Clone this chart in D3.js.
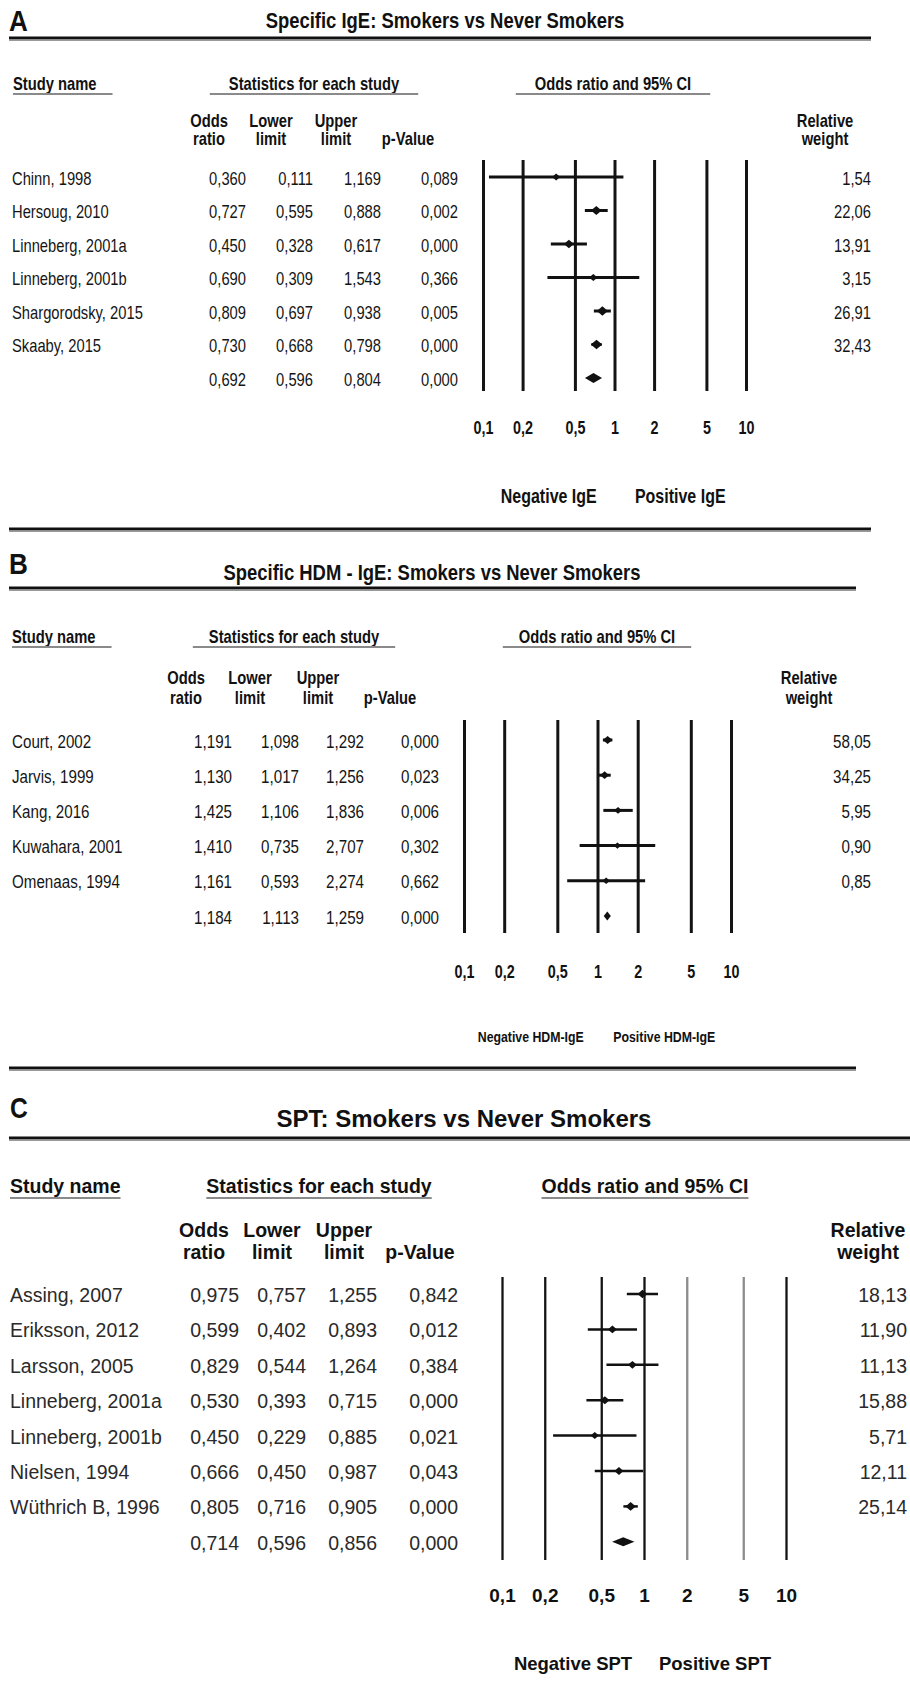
<!DOCTYPE html>
<html><head><meta charset="utf-8">
<script src="https://cdn.jsdelivr.net/npm/d3@7"></script>
<style>html,body{margin:0;padding:0;background:#fff;}svg{display:block;}</style>
</head><body>
<script>
// ---------- DATA ----------
const tickValues = [0.1, 0.2, 0.5, 1, 2, 5, 10];
const tickLabels = ["0,1", "0,2", "0,5", "1", "2", "5", "10"];

const studiesA = ["Chinn, 1998", "Hersoug, 2010", "Linneberg, 2001a", "Linneberg, 2001b", "Shargorodsky, 2015", "Skaaby, 2015"];
const orA    = [0.360, 0.727, 0.450, 0.690, 0.809, 0.730];
const lowerA = [0.111, 0.595, 0.328, 0.309, 0.697, 0.668];
const upperA = [1.169, 0.888, 0.617, 1.543, 0.938, 0.798];
const pA     = [0.089, 0.002, 0.000, 0.366, 0.005, 0.000];
const weightA = [1.54, 22.06, 13.91, 3.15, 26.91, 32.43];
const pooledA = [0.692, 0.596, 0.804, 0.000];

const studiesB = ["Court, 2002", "Jarvis, 1999", "Kang, 2016", "Kuwahara, 2001", "Omenaas, 1994"];
const orB    = [1.191, 1.130, 1.425, 1.410, 1.161];
const lowerB = [1.098, 1.017, 1.106, 0.735, 0.593];
const upperB = [1.292, 1.256, 1.836, 2.707, 2.274];
const pB     = [0.000, 0.023, 0.006, 0.302, 0.662];
const weightB = [58.05, 34.25, 5.95, 0.90, 0.85];
const pooledB = [1.184, 1.113, 1.259, 0.000];

const studiesC = ["Assing, 2007", "Eriksson, 2012", "Larsson, 2005", "Linneberg, 2001a", "Linneberg, 2001b", "Nielsen, 1994", "Wüthrich B, 1996"];
const orC    = [0.975, 0.599, 0.829, 0.530, 0.450, 0.666, 0.805];
const lowerC = [0.757, 0.402, 0.544, 0.393, 0.229, 0.450, 0.716];
const upperC = [1.255, 0.893, 1.264, 0.715, 0.885, 0.987, 0.905];
const pC     = [0.842, 0.012, 0.384, 0.000, 0.021, 0.043, 0.000];
const weightC = [18.13, 11.90, 11.13, 15.88, 5.71, 12.11, 25.14];
const pooledC = [0.714, 0.596, 0.856, 0.000];

// ---------- DRAW ----------
const W = 910, H = 1692;
const FONT = "'Liberation Sans', Arial, Helvetica, sans-serif";
const svg = d3.select("body").append("svg").attr("width", W).attr("height", H);
svg.append("rect").attr("width", W).attr("height", H).attr("fill", "#fff");

const f3 = v => d3.format(".3f")(v).replace(".", ",");
const f2 = v => d3.format(".2f")(v).replace(".", ",");

function T(g, x, y, s, o) {
  return g.append("text")
    .attr("transform", `translate(${x},${y}) scale(${o.sx || 1},1)`)
    .attr("text-anchor", o.anchor || "start")
    .attr("font-family", FONT)
    .attr("font-size", o.size)
    .attr("font-weight", o.weight || "normal")
    .attr("fill", o.fill || "#111")
    .text(s);
}

function panel(P) {
  const g = svg.append("g");
  const sx = P.sx;
  // panel letter + title
  T(g, P.labX, P.labY, P.label, {size: 29, weight: "bold", sx: P.labSx});
  T(g, P.titleX, P.titleY, P.title, {size: P.titleSize, weight: "bold", sx, anchor: "middle"});
  // rules
  const rule = (y, x2) => {
    g.append("line").attr("x1", 9).attr("x2", x2).attr("y1", y).attr("y2", y)
      .attr("stroke", "#111").attr("stroke-width", 3);
    g.append("line").attr("x1", 9).attr("x2", x2).attr("y1", y + 2.3).attr("y2", y + 2.3)
      .attr("stroke", "#9a9a9a").attr("stroke-width", 1.2);
  };
  rule(P.ruleTopY, P.ruleX2);
  if (P.ruleBotY) rule(P.ruleBotY, P.ruleX2);

  // section headers with underline
  const heads = [["Study name", P.snX, "start", 0, P.ulPadR],
                 ["Statistics for each study", P.statsX, "middle", P.ulPad, P.ulPad],
                 ["Odds ratio and 95% CI", P.orX, "middle", P.ulPad, P.ulPad]];
  heads.forEach(([s, x, a, pl, pr]) => {
    const t = T(g, x, P.hdrY, s, {size: P.hdr, weight: "bold", sx, anchor: a});
    const w = t.node().getComputedTextLength() * sx;
    const x0 = a === "start" ? x : x - w / 2;
    g.append("line").attr("x1", x0 - pl).attr("x2", x0 + w + pr)
      .attr("y1", P.ulY).attr("y2", P.ulY)
      .attr("stroke", "#8a8a8a").attr("stroke-width", P.ulW);
  });

  // column headers
  const colH = [["Odds", "ratio"], ["Lower", "limit"], ["Upper", "limit"], ["", "p-Value"]];
  colH.forEach(([a, b], i) => {
    if (a) T(g, P.hdrCols[i], P.colY1, a, {size: P.hdr, weight: "bold", sx, anchor: "middle"});
    T(g, P.hdrCols[i], P.colY2, b, {size: P.hdr, weight: "bold", sx, anchor: "middle"});
  });
  T(g, P.relX, P.colY1, "Relative", {size: P.hdr, weight: "bold", sx, anchor: "middle"});
  T(g, P.relX, P.colY2, "weight", {size: P.hdr, weight: "bold", sx, anchor: "middle"});

  // scales
  const n = P.names.length;
  const y = d3.scaleLinear().domain([0, 1]).range([P.row0, P.row0 + P.step]);
  const x = d3.scaleLog().domain([0.1, 10]).range(P.xr);
  const size = d3.scaleSqrt().domain([0, P.wMax]).range(P.mk);

  // grid lines + tick labels via axis
  const ax = g.append("g").attr("transform", `translate(0,${P.gridBot})`)
    .call(d3.axisBottom(x).tickValues(tickValues)
      .tickFormat((d, i) => tickLabels[i])
      .tickSize(-(P.gridBot - P.gridTop)).tickPadding(0));
  ax.select(".domain").remove();
  ax.selectAll(".tick line")
    .attr("stroke", d => (P.grayTicks && P.grayTicks.includes(d)) ? "#8c8c8c" : "#141414")
    .attr("stroke-width", P.gridW);
  ax.selectAll(".tick text")
    .attr("y", P.tickY - P.gridBot).attr("dy", null)
    .attr("transform", `scale(${sx},1)`)
    .attr("font-family", FONT).attr("font-size", P.tickSize)
    .attr("font-weight", "bold").attr("fill", "#111");

  const rowsAll = P.names.map((nm, i) => ({nm, or: P.or[i], lo: P.lo[i], hi: P.hi[i], p: P.p[i], w: P.w[i], i}));
  const bodyFill = P.bodyFill;
  // text rows
  rowsAll.forEach(r => {
    const yy = y(r.i) + P.txtOff;
    T(g, P.nameX, yy, r.nm, {size: P.body, sx, fill: bodyFill});
    [r.or, r.lo, r.hi, r.p].forEach((v, k) => T(g, P.valR[k], yy, f3(v), {size: P.body, sx, anchor: "end", fill: bodyFill}));
    T(g, P.wR, yy, f2(r.w), {size: P.body, sx, anchor: "end", fill: bodyFill});
  });
  // pooled values
  const yp = y(n) + P.txtOff;
  P.pooled.forEach((v, k) => T(g, P.valR[k], yp, f3(v), {size: P.body, sx, anchor: "end", fill: bodyFill}));

  // CI lines
  g.selectAll(".ci").data(rowsAll).join("line")
    .attr("x1", d => x(d.lo)).attr("x2", d => x(d.hi))
    .attr("y1", d => y(d.i) + P.mkOff).attr("y2", d => y(d.i) + P.mkOff)
    .attr("stroke", "#111").attr("stroke-width", P.ciW);
  // study markers (diamonds)
  g.selectAll(".mk").data(rowsAll).join("path")
    .attr("d", d => {
      const cx = x(d.or), cy = y(d.i) + P.mkOff, hw = size(d.w), hh = hw * 0.85;
      return `M${cx - hw},${cy}L${cx},${cy - hh}L${cx + hw},${cy}L${cx},${cy + hh}Z`;
    })
    .attr("fill", "#111");
  // pooled diamond
  const py = y(n) + P.mkOff;
  g.append("path")
    .attr("d", `M${x(P.pooled[1])},${py}L${x(P.pooled[0])},${py - P.pdH}L${x(P.pooled[2])},${py}L${x(P.pooled[0])},${py + P.pdH}Z`)
    .attr("fill", "#111");

  // favours labels
  const xm1 = (x(0.1) + x(1)) / 2, xm2 = (x(1) + x(10)) / 2;
  T(g, xm1, P.negY, "Negative " + P.outcome, {size: P.negSize, weight: "bold", sx: P.negSx, anchor: "middle"});
  T(g, xm2, P.negY, "Positive " + P.outcome, {size: P.negSize, weight: "bold", sx: P.negSx, anchor: "middle"});
}

panel({
  label: "A", labX: 9, labY: 31, labSx: 0.9,
  title: "Specific IgE: Smokers vs Never Smokers", titleX: 445, titleY: 28, titleSize: 22.5,
  ruleTopY: 38, ruleBotY: 529, ruleX2: 871, sx: 0.82,
  hdr: 18, body: 18, hdrY: 90, ulY: 94, ulW: 2.2, snX: 13, statsX: 314, orX: 613, ulPad: 19, ulPadR: 16,
  hdrCols: [209, 271, 336, 408], relX: 825, colY1: 127, colY2: 145,
  valR: [246, 313, 381, 458], wR: 871, nameX: 12, bodyFill: "#151515",
  row0: 178, step: 33.5, txtOff: 6.5, mkOff: -1,
  gridTop: 160, gridBot: 391, xr: [483, 746], gridW: 3, ciW: 3,
  tickY: 434, tickSize: 17.5, negY: 503, negSize: 19.5, negSx: 0.82, outcome: "IgE",
  wMax: 35, mk: [3.6, 5.8], pdH: 5,
  names: studiesA, or: orA, lo: lowerA, hi: upperA, p: pA, w: weightA, pooled: pooledA
});

panel({
  label: "B", labX: 9, labY: 574, labSx: 0.9,
  title: "Specific HDM - IgE: Smokers vs Never Smokers", titleX: 432, titleY: 580, titleSize: 22.5,
  ruleTopY: 588, ruleBotY: 1068, ruleX2: 856, sx: 0.82,
  hdr: 18, body: 18.5, hdrY: 643, ulY: 647, ulW: 2.2, snX: 12, statsX: 294, orX: 597, ulPad: 16, ulPadR: 16,
  hdrCols: [186, 250, 318, 390], relX: 809, colY1: 684, colY2: 704,
  valR: [232, 299, 364, 439], wR: 871, nameX: 12, bodyFill: "#151515",
  row0: 741, step: 35.2, txtOff: 6.5, mkOff: -1,
  gridTop: 720, gridBot: 933, xr: [464, 731], gridW: 3, ciW: 3,
  tickY: 978, tickSize: 17.5, negY: 1042, negSize: 14, negSx: 0.88, outcome: "HDM-IgE",
  wMax: 60, mk: [3.6, 4.8], pdH: 4.5,
  names: studiesB, or: orB, lo: lowerB, hi: upperB, p: pB, w: weightB, pooled: pooledB
});

panel({
  label: "C", labX: 10, labY: 1118, labSx: 0.85,
  title: "SPT: Smokers vs Never Smokers", titleX: 464, titleY: 1127, titleSize: 24,
  ruleTopY: 1138, ruleBotY: null, ruleX2: 910, sx: 1,
  hdr: 19.5, body: 19.5, hdrY: 1193, ulY: 1198, ulW: 1.8, snX: 10, statsX: 319, orX: 645, ulPad: 0, ulPadR: 0,
  hdrCols: [204, 272, 344, 420], relX: 868, colY1: 1237, colY2: 1259,
  valR: [239, 306, 377, 458], wR: 907, nameX: 10, bodyFill: "#2a2a2a",
  row0: 1295, step: 35.4, txtOff: 7, mkOff: -1,
  gridTop: 1277, gridBot: 1560, xr: [502, 786], gridW: 2.3, ciW: 2.5, grayTicks: [2, 5],
  tickY: 1602, tickSize: 19, negY: 1670, negSize: 18.5, negSx: 1, outcome: "SPT",
  wMax: 26, mk: [3.2, 5.2], pdH: 4.5,
  names: studiesC, or: orC, lo: lowerC, hi: upperC, p: pC, w: weightC, pooled: pooledC
});
</script>
</body></html>
